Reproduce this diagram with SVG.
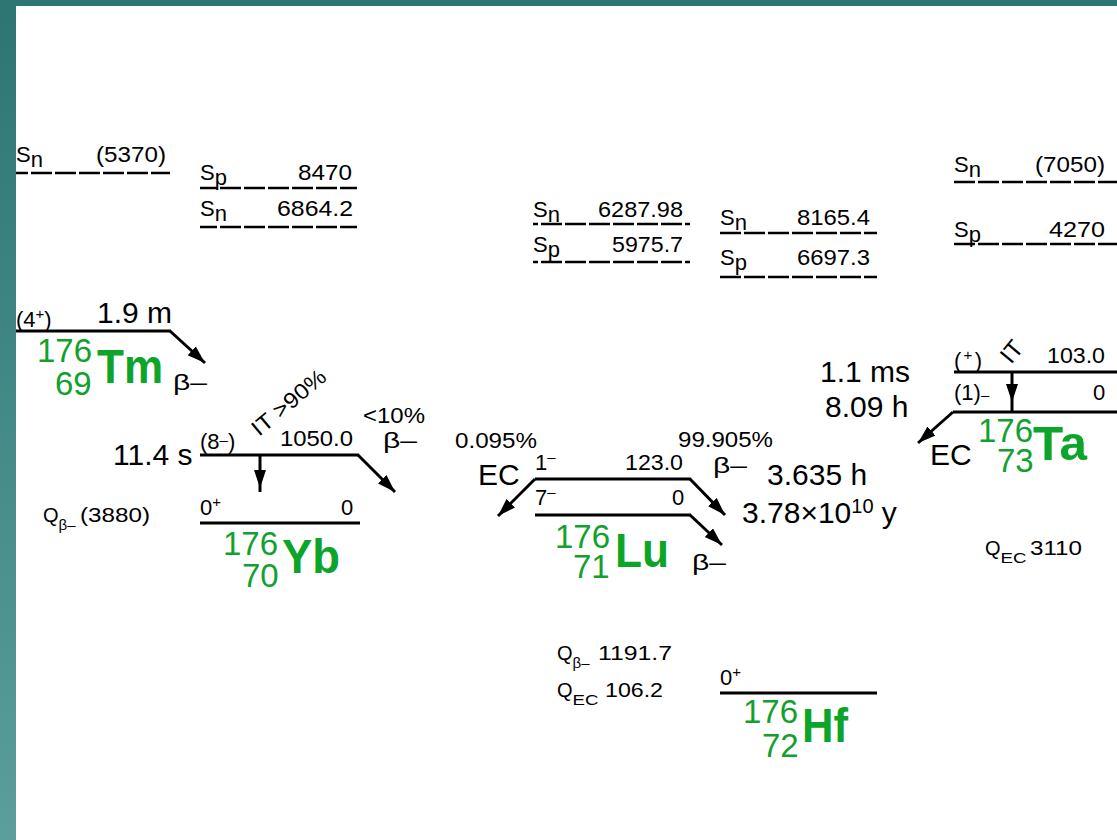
<svg xmlns="http://www.w3.org/2000/svg" width="1117" height="840" viewBox="0 0 1117 840">
<defs>
<linearGradient id="bar" x1="0" y1="0" x2="0" y2="1">
<stop offset="0" stop-color="#2d7573"/>
<stop offset="1" stop-color="#5b9e9b"/>
</linearGradient>
<marker id="ah" markerUnits="userSpaceOnUse" markerWidth="20" markerHeight="14" refX="18" refY="6" orient="auto">
<path d="M0,0 L18,6 L0,12 z" fill="#000"/>
</marker>
<style>
.t{font-family:"Liberation Sans",Arial,sans-serif;fill:#000}
.s{font-size:22px}
.q{font-size:20px}
.sub{font-size:15px}
.hl{font-size:30px}
.g{font-family:"Liberation Sans",Arial,sans-serif;fill:#12a02e;font-size:33px}
.el{font-family:"Liberation Sans",Arial,sans-serif;fill:#0ca52a;font-size:48px;font-weight:bold}
.lvl{stroke:#000;stroke-width:3;fill:none}
.sep{stroke:#000;stroke-width:2.5;stroke-dasharray:21 3;fill:none}
.arr{stroke:#000;stroke-width:3;fill:none;marker-end:url(#ah)}
.arm{stroke:#000;stroke-width:3;fill:none;marker-mid:url(#ah)}
</style>
</defs>
<rect x="0" y="0" width="1117" height="840" fill="#fff"/>
<rect x="0" y="0" width="1117" height="6" fill="#2e7674"/>
<rect x="0" y="0" width="16" height="840" fill="url(#bar)"/>

<g id="sep-tm">
<text class="t s" x="16" y="162">S<tspan dy="5">n</tspan></text>
<text class="t s" x="96" y="162" textLength="70" lengthAdjust="spacingAndGlyphs">(5370)</text>
<line class="sep" x1="16" y1="173" x2="170" y2="173" stroke-dashoffset="9"/>
</g>

<g id="sep-yb">
<text class="t s" x="200" y="180">S<tspan dy="5">p</tspan></text>
<text class="t s" x="298" y="180" textLength="54" lengthAdjust="spacingAndGlyphs">8470</text>
<line class="sep" x1="200" y1="188" x2="357" y2="188" stroke-dashoffset="4"/>
<text class="t s" x="200" y="216">S<tspan dy="5">n</tspan></text>
<text class="t s" x="277" y="216" textLength="76" lengthAdjust="spacingAndGlyphs">6864.2</text>
<line class="sep" x1="200" y1="227" x2="357" y2="227" stroke-dashoffset="4"/>
</g>

<g id="sep-lu">
<text class="t s" x="533" y="217">S<tspan dy="5">n</tspan></text>
<text class="t s" x="598" y="217" textLength="85" lengthAdjust="spacingAndGlyphs">6287.98</text>
<line class="sep" x1="533" y1="224" x2="690" y2="224" stroke-dashoffset="16"/>
<text class="t s" x="533" y="252">S<tspan dy="5">p</tspan></text>
<text class="t s" x="612" y="252" textLength="71" lengthAdjust="spacingAndGlyphs">5975.7</text>
<line class="sep" x1="533" y1="262" x2="690" y2="262" stroke-dashoffset="16"/>
</g>

<g id="sep-hf">
<text class="t s" x="720" y="225">S<tspan dy="5">n</tspan></text>
<text class="t s" x="797" y="225" textLength="73" lengthAdjust="spacingAndGlyphs">8165.4</text>
<line class="sep" x1="720" y1="233" x2="877" y2="233"/>
<text class="t s" x="720" y="265">S<tspan dy="5">p</tspan></text>
<text class="t s" x="797" y="265" textLength="73" lengthAdjust="spacingAndGlyphs">6697.3</text>
<line class="sep" x1="720" y1="277" x2="877" y2="277"/>
</g>

<g id="sep-ta">
<text class="t s" x="954" y="172">S<tspan dy="5">n</tspan></text>
<text class="t s" x="1035" y="172" textLength="70" lengthAdjust="spacingAndGlyphs">(7050)</text>
<line class="sep" x1="954" y1="182" x2="1117" y2="182"/>
<text class="t s" x="954" y="237">S<tspan dy="5">p</tspan></text>
<text class="t s" x="1049" y="237" textLength="56" lengthAdjust="spacingAndGlyphs">4270</text>
<line class="sep" x1="954" y1="244" x2="1117" y2="244"/>
</g>

<g id="tm176">
<text class="t s" x="16" y="327">(4<tspan class="sub" dy="-8">+</tspan><tspan dy="8">)</tspan></text>
<text class="t hl" x="97" y="323">1.9 m</text>
<line class="lvl" x1="16" y1="331" x2="171" y2="331"/>
<text class="g"><tspan x="37" y="362">176</tspan><tspan x="55" y="395">69</tspan></text>
<text class="el" x="97" y="383" textLength="66" lengthAdjust="spacingAndGlyphs">Tm</text>
<text class="t s" x="173" y="390" textLength="34" lengthAdjust="spacingAndGlyphs">β–</text>
</g>

<g id="yb176">
<text class="t hl" x="113" y="465">11.4 s</text>
<text class="t s" x="200" y="449">(8<tspan class="sub" dy="-4">–</tspan><tspan dy="4">)</tspan></text>
<text class="t s" x="280" y="446" textLength="73" lengthAdjust="spacingAndGlyphs">1050.0</text>
<line class="lvl" x1="200" y1="455" x2="359" y2="455"/>
<text class="t" font-size="22" transform="translate(259,437) rotate(-40)" textLength="90" lengthAdjust="spacingAndGlyphs">IT &gt;90%</text>
<text class="t s" x="363" y="423" textLength="62" lengthAdjust="spacingAndGlyphs">&lt;10%</text>
<text class="t s" x="383" y="448" textLength="34" lengthAdjust="spacingAndGlyphs">β–</text>
<text class="t s" x="200" y="515">0<tspan class="sub" dy="-8">+</tspan></text>
<text class="t s" x="341" y="515">0</text>
<line class="lvl" x1="200" y1="523" x2="360" y2="523"/>
<text class="g"><tspan x="223" y="555">176</tspan><tspan x="242" y="587">70</tspan></text>
<text class="el" x="282" y="573" textLength="58" lengthAdjust="spacingAndGlyphs">Yb</text>
<text class="t q" x="43" y="522">Q<tspan class="sub" dy="8">β–</tspan><tspan x="80" y="522" textLength="70" lengthAdjust="spacingAndGlyphs">(3880)</tspan></text>
</g>

<g id="lu176">
<text class="t s" x="455" y="448" textLength="82" lengthAdjust="spacingAndGlyphs">0.095%</text>
<text class="t hl" x="478" y="485">EC</text>
<text class="t s" x="535" y="470">1<tspan class="sub" dy="-8">–</tspan></text>
<text class="t s" x="625" y="470" textLength="58" lengthAdjust="spacingAndGlyphs">123.0</text>
<line class="lvl" x1="535" y1="479" x2="691" y2="479"/>
<text class="t s" x="535" y="505">7<tspan class="sub" dy="-8">–</tspan></text>
<text class="t s" x="672" y="505">0</text>
<line class="lvl" x1="535" y1="515" x2="691" y2="515"/>
<text class="g"><tspan x="555" y="548">176</tspan><tspan x="573" y="578">71</tspan></text>
<text class="el" x="615" y="567" textLength="54" lengthAdjust="spacingAndGlyphs">Lu</text>
<text class="t s" x="678" y="447" textLength="95" lengthAdjust="spacingAndGlyphs">99.905%</text>
<text class="t s" x="713" y="473" textLength="34" lengthAdjust="spacingAndGlyphs">β–</text>
<text class="t hl" x="767" y="485">3.635 h</text>
<text class="t hl" x="742" y="523">3.78×10<tspan font-size="20" dy="-10">10</tspan><tspan dy="10"> y</tspan></text>
<text class="t s" x="692" y="570" textLength="34" lengthAdjust="spacingAndGlyphs">β–</text>
<text class="t q" x="557" y="660">Q<tspan class="sub" dy="8">β–</tspan><tspan x="598" y="660" textLength="74" lengthAdjust="spacingAndGlyphs">1191.7</tspan></text>
<text class="t q" x="557" y="697">Q<tspan class="sub" dy="8" textLength="26" lengthAdjust="spacingAndGlyphs">EC</tspan><tspan x="605" y="697" textLength="58" lengthAdjust="spacingAndGlyphs">106.2</tspan></text>
</g>

<g id="ta176">
<text class="t hl" x="820" y="382">1.1 ms</text>
<text class="t hl" x="825" y="417">8.09 h</text>
<text class="t s" x="954" y="368" textLength="28" lengthAdjust="spacing">(<tspan class="sub" dy="-8">+</tspan><tspan dy="8">)</tspan></text>
<text class="t" font-size="24" transform="translate(1011,365) rotate(-50)">IT</text>
<text class="t s" x="1047" y="363" textLength="58" lengthAdjust="spacingAndGlyphs">103.0</text>
<line class="lvl" x1="954" y1="372" x2="1117" y2="372"/>
<text class="t s" x="954" y="400">(1)<tspan class="sub">–</tspan></text>
<text class="t s" x="1093" y="400">0</text>
<line class="lvl" x1="953" y1="412" x2="1117" y2="412"/>
<text class="t hl" x="930" y="465">EC</text>
<text class="g"><tspan x="978" y="442">176</tspan><tspan x="997" y="472">73</tspan></text>
<text class="el" x="1033" y="460" textLength="54" lengthAdjust="spacingAndGlyphs">Ta</text>
<text class="t q" x="985" y="555">Q<tspan class="sub" dy="8" textLength="26" lengthAdjust="spacingAndGlyphs">EC</tspan><tspan x="1030" y="555" textLength="52" lengthAdjust="spacingAndGlyphs">3110</tspan></text>
</g>

<g id="hf176">
<text class="t s" x="720" y="685">0<tspan class="sub" dy="-8">+</tspan></text>
<line class="lvl" x1="720" y1="693" x2="877" y2="693"/>
<text class="g"><tspan x="743" y="723">176</tspan><tspan x="762" y="757">72</tspan></text>
<text class="el" x="802" y="742" textLength="46" lengthAdjust="spacingAndGlyphs">Hf</text>
</g>

<g id="connectors">
<path class="arr" d="M170,331 L205,363"/>
<path class="arr" d="M358,455 L395,492"/>
<path class="arm" d="M260,455 L260,488 L260,492"/>
<path class="arr" d="M535,479 L498,516"/>
<path class="arr" d="M690,479 L725,515"/>
<path class="arr" d="M690,515 L722,545"/>
<path class="arm" d="M1012,372 L1012,402 L1012,412"/>
<path class="arr" d="M953,412 L918,443"/>
</g>
</svg>
